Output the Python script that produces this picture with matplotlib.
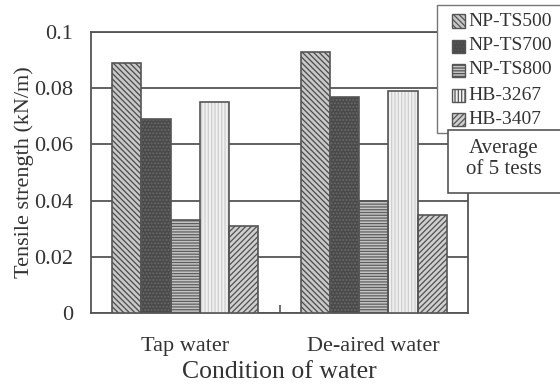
import numpy as np
import matplotlib.pyplot as plt
from matplotlib.patches import Rectangle

plt.rcParams['font.family'] = ['Liberation Serif', 'DejaVu Serif']
plt.rcParams['hatch.linewidth'] = 0.9

conditions = ["Tap water", "De-aired water"]
products = ["NP-TS500", "NP-TS700", "NP-TS800", "HB-3267", "HB-3407"]
strength = {
    "NP-TS500": [0.089, 0.093],
    "NP-TS700": [0.069, 0.077],
    "NP-TS800": [0.033, 0.040],
    "HB-3267": [0.075, 0.079],
    "HB-3407": [0.031, 0.035],
}

# fill colour, hatch colour, hatch pattern for each product
styles = {
    "NP-TS500": ("#c8c8c8", "#4a4a4a", "\\\\\\\\\\\\"),
    "NP-TS700": ("#4a4a4a", "#6a6a6a", "....."),
    "NP-TS800": ("#c4c4c4", "#5e5e5e", "------"),
    "HB-3267": ("#f0f0f0", "#cdcdcd", "|||||"),
    "HB-3407": ("#cfcfcf", "#505050", "//////"),
}

edge = "#555555"
txt = "#333333"

fig = plt.figure(figsize=(5.6, 3.85), dpi=100)
ax = fig.add_axes([91/560, 1 - 313/385, 377/560, 281/385])

x = np.arange(len(conditions))
w = 0.155
for i, p in enumerate(products):
    fc, hc, h = styles[p]
    ax.bar(x + (i - 2) * w, strength[p], w, facecolor=fc, edgecolor=hc,
           hatch=h, linewidth=0, zorder=3)
    # outline drawn separately so the hatch keeps its own colour
    ax.bar(x + (i - 2) * w, strength[p], w, facecolor="none", edgecolor=edge,
           linewidth=1.2, zorder=4)

ax.set_xlim(-0.5, 1.5)
ax.set_ylim(0, 0.1)
ax.set_yticks([0, 0.02, 0.04, 0.06, 0.08, 0.1])
ax.set_yticklabels(["0", "0.02", "0.04", "0.06", "0.08", "0.1"])
ax.yaxis.grid(True, color="#555555", linewidth=1.3, zorder=0)
ax.set_axisbelow(True)
ax.tick_params(axis="y", length=0, pad=13, labelsize=16, labelcolor=txt)

ax.set_xticks([0.5])
ax.set_xticklabels([""])
ax.tick_params(axis="x", direction="in", length=6, width=1.2, color=edge)
for xi, c in zip(x, conditions):
    ax.text(xi, -0.0085, c, ha="center", va="top", fontsize=16, color=txt)

for s in ax.spines.values():
    s.set_color(edge)
    s.set_linewidth(1.3)

ax.set_ylabel("Tensile strength (kN/m)", fontsize=16, color=txt)
ax.yaxis.set_label_coords(-0.15, 0.5)
fig.text(279.5/560, 1 - 372/385, "Condition of water", ha="center", va="center",
         fontsize=18.5, color=txt)

# legend box, running off the right edge
def fx(px):
    return px / 560

def fy(py):
    return 1 - py / 385

fig.patches.append(Rectangle((fx(437), fy(133)), fx(130), 128/385,
                             transform=fig.transFigure, facecolor="white",
                             edgecolor="#777777", linewidth=1, zorder=5))
rows = [21, 46, 70, 95, 119]
for p, ry in zip(products, rows):
    fc, hc, h = styles[p]
    fig.patches.append(Rectangle((fx(452), fy(ry + 6.5)), fx(13), 13/385,
                                 transform=fig.transFigure, facecolor=fc,
                                 edgecolor=edge, hatch=h, linewidth=1, zorder=6))
    fig.text(fx(468), fy(ry), p, ha="left", va="center", fontsize=14,
             color=txt, zorder=6)

fig.patches.append(Rectangle((fx(448), fy(193)), fx(120), 63/385,
                             transform=fig.transFigure, facecolor="white",
                             edgecolor=edge, linewidth=1.2, zorder=7))
fig.text(fx(504), fy(159), "Average\nof 5 tests", ha="center", va="center",
         fontsize=15, color=txt, linespacing=1.1, zorder=8)

fig.savefig("out.png", dpi=100)
